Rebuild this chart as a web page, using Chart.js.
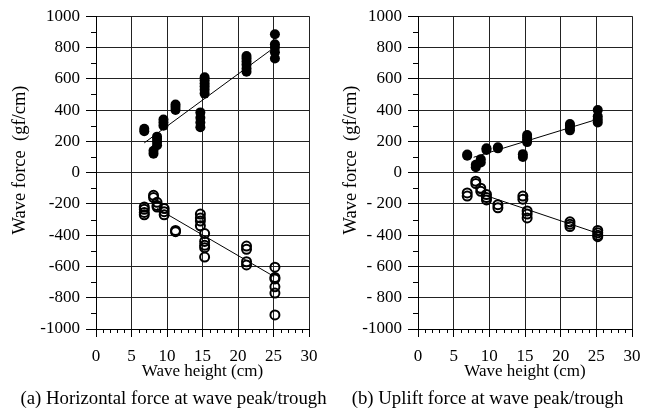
<!DOCTYPE html>
<html>
<head>
<meta charset="utf-8">
<script src="https://cdn.jsdelivr.net/npm/chart.js@4/dist/chart.umd.min.js"></script>
<style>
  html, body { margin: 0; padding: 0; background: #fff; }
  .box { position: absolute; top: 0; width: 327px; height: 410px; }
</style>
</head>
<body>
<div class="box" style="left:0"><canvas id="chartA" width="327" height="410"></canvas></div>
<div class="box" style="left:327px"><canvas id="chartB" width="327" height="410"></canvas></div>
<script>
// (a) horizontal force - peak (filled) and trough (open)
const hPeakX = [6.8, 6.8, 8.1, 8.1, 8.6, 8.6, 8.6, 8.6, 9.5, 9.5, 9.5, 11.2, 11.2, 11.2,
  14.7, 14.7, 14.7, 14.7, 15.3, 15.3, 15.3, 15.3, 15.3, 15.3,
  21.2, 21.2, 21.2, 21.2, 21.2, 21.2, 25.2, 25.2, 25.2, 25.2, 25.2];
const hPeakY = [265, 280, 120, 140, 175, 195, 215, 230, 300, 320, 340, 400, 420, 435,
  290, 320, 350, 385, 505, 530, 550, 570, 590, 610,
  645, 665, 690, 710, 730, 745, 730, 770, 800, 820, 885];
const hTroughX = [6.8, 6.8, 6.8, 6.8, 8.1, 8.1, 8.6, 8.6, 8.6, 9.6, 9.6, 9.6, 11.2, 11.2,
  14.7, 14.7, 14.7, 14.7, 15.3, 15.3, 15.3, 15.3, 15.3,
  21.2, 21.2, 21.2, 21.2, 25.2, 25.2, 25.2, 25.2, 25.2, 25.2];
const hTroughY = [-220, -235, -255, -270, -145, -160, -190, -210, -220, -230, -250, -270, -370, -378,
  -265, -290, -310, -340, -390, -440, -465, -480, -540,
  -470, -490, -570, -590, -605, -670, -680, -730, -770, -910];
const hPeakFitX = [6.8, 25.2];
const hPeakFitY = [190, 803];
const hTroughFitX = [8.6, 25.1];
const hTroughFitY = [-229, -665];

// (b) uplift force
const uPeakX = [6.9, 6.9, 8.1, 8.1, 8.8, 8.8, 9.6, 9.6, 11.2, 11.2, 14.7, 14.7,
  15.3, 15.3, 15.3, 15.3, 21.3, 21.3, 21.3, 21.3, 25.2, 25.2, 25.2, 25.2];
const uPeakY = [108, 115, 35, 50, 65, 85, 145, 155, 155, 162, 100, 118,
  195, 210, 225, 240, 270, 285, 300, 310, 320, 340, 360, 400];
const uTroughX = [6.9, 6.9, 8.1, 8.1, 8.8, 8.8, 9.6, 9.6, 9.6, 11.2, 11.2, 14.7, 14.7,
  15.3, 15.3, 15.3, 21.3, 21.3, 21.3, 25.2, 25.2, 25.2, 25.2];
const uTroughY = [-130, -150, -55, -70, -100, -120, -140, -160, -175, -205, -225, -150, -170,
  -245, -265, -290, -315, -330, -345, -370, -385, -400, -410];
const uPeakFitX = [7.8, 25.2];
const uPeakFitY = [98, 342];
const uTroughFitX = [8.1, 25.2];
const uTroughFitY = [-125, -388];

const xTicks = [0, 5, 10, 15, 20, 25, 30];
const yTicks = [-1000, -800, -600, -400, -200, 0, 200, 400, 600, 800, 1000];

const font = "'Liberation Serif', 'Times New Roman', serif";
const pts = (xs, ys) => xs.map((x, i) => ({ x: x, y: ys[i] }));

// small ticks every 1 cm and every 100 gf/cm, plus y title and caption
const extras = {
  id: "extras",
  afterDraw(chart, args, opts) {
    const c = chart.ctx, xs = chart.scales.x, ys = chart.scales.y;
    c.save();
    c.strokeStyle = "#000";
    c.lineWidth = 1;
    c.beginPath();
    for (let v = 1; v < 30; v++) {
      if (v % 5 === 0) continue;
      const px = Math.round(xs.getPixelForValue(v)) + 0.5;
      c.moveTo(px, ys.bottom);
      c.lineTo(px, ys.bottom + 4);
    }
    for (let v = -900; v < 1000; v += 200) {
      const py = Math.round(ys.getPixelForValue(v)) + 0.5;
      c.moveTo(xs.left, py);
      c.lineTo(xs.left - 5, py);
    }
    c.stroke();

    c.fillStyle = "#000";
    c.textAlign = "center";
    c.textBaseline = "middle";
    c.font = "18.5px " + font;
    c.save();
    c.translate(opts.yTitleX, 160);
    c.rotate(-Math.PI / 2);
    c.fillText("Wave force  (gf/cm)", 0, 0);
    c.restore();

    c.textBaseline = "alphabetic";
    c.font = "18.8px " + font;
    c.fillText(opts.caption, opts.captionX, 404);
    c.restore();
  }
};

function makeChart(id, caption, peak, trough, peakFit, troughFit, yWidth, rightPad, yTitleX, captionX, labelFmt) {
  new Chart(document.getElementById(id), {
    type: "scatter",
    data: {
      datasets: [
        { data: peak, pointRadius: 5, pointBackgroundColor: "#000", pointBorderColor: "#000", pointBorderWidth: 0 },
        { data: trough, pointRadius: 4.5, pointBackgroundColor: "rgba(0,0,0,0)", pointBorderColor: "#000", pointBorderWidth: 2 },
        { data: peakFit, showLine: true, borderColor: "#000", borderWidth: 1, pointRadius: 0 },
        { data: troughFit, showLine: true, borderColor: "#000", borderWidth: 1, pointRadius: 0 }
      ]
    },
    options: {
      responsive: false,
      animation: false,
      events: [],
      layout: { padding: { top: 15, right: rightPad, left: 0, bottom: 28 } },
      plugins: {
        legend: { display: false },
        tooltip: { enabled: false },
        extras: { caption: caption, captionX: captionX, yTitleX: yTitleX }
      },
      scales: {
        x: {
          type: "linear",
          min: 0, max: 30,
          afterBuildTicks: s => { s.ticks = xTicks.map(v => ({ value: v })); },
          afterFit: s => { s.height = 53; },
          ticks: { color: "#000", font: { family: font, size: 17 }, padding: 9, maxRotation: 0 },
          grid: { color: "#222", lineWidth: 1, tickLength: 8, tickColor: "#000" },
          border: { color: "#000", width: 1 },
          title: { display: true, text: "Wave height (cm)", color: "#000",
            font: { family: font, size: 17 }, padding: { top: 0, bottom: 0 } }
        },
        y: {
          type: "linear",
          min: -1000, max: 1000,
          afterBuildTicks: s => { s.ticks = yTicks.map(v => ({ value: v })); },
          afterFit: s => { s.width = yWidth; },
          ticks: { color: "#000", font: { family: font, size: 17 }, padding: 6, callback: labelFmt },
          grid: { color: "#222", lineWidth: 1, tickLength: 10, tickColor: "#000" },
          border: { color: "#000", width: 1 }
        }
      }
    },
    plugins: [extras]
  });
}

makeChart("chartA", "(a) Horizontal force at wave peak/trough",
  pts(hPeakX, hPeakY), pts(hTroughX, hTroughY),
  pts(hPeakFitX, hPeakFitY), pts(hTroughFitX, hTroughFitY),
  96, 18, 20, 173.5, v => String(v));

makeChart("chartB", "(b) Uplift force at wave peak/trough",
  pts(uPeakX, uPeakY), pts(uTroughX, uTroughY),
  pts(uPeakFitX, uPeakFitY), pts(uTroughFitX, uTroughFitY),
  91, 22, 24, 160.5, v => (v < 0 && v > -1000 ? "- " + Math.abs(v) : String(v)));
</script>
</body>
</html>
